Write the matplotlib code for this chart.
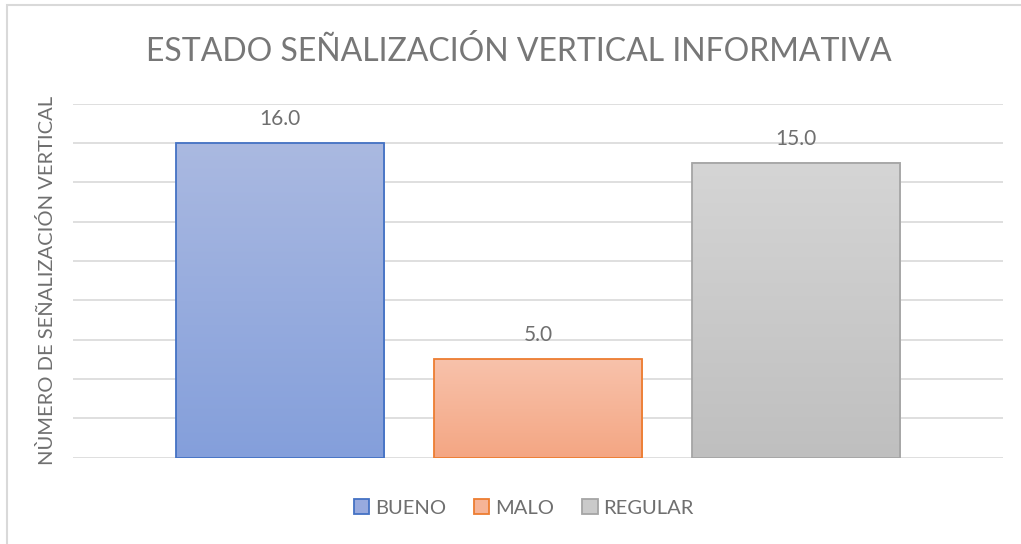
import numpy as np
import matplotlib
matplotlib.use("Agg")
import matplotlib.pyplot as plt
from matplotlib.colors import LinearSegmentedColormap
from matplotlib.patches import Rectangle

categorias = ["BUENO", "MALO", "REGULAR"]
valores = [16.0, 5.0, 15.0]

# top / bottom gradient colours and outline per bar
color_arriba = ["#aab9e1", "#f8c2ab", "#d5d5d5"]
color_abajo = ["#849fdb", "#f4a683", "#bfbfbf"]
color_borde = ["#4472c4", "#ed7d31", "#a5a5a5"]

plt.rcParams["font.family"] = ["Lato", "DejaVu Sans"]

fig = plt.figure(figsize=(10.21, 5.44), dpi=100)
ax = fig.add_axes([0.0715, 0.1586, 0.9109, 0.6511])

ancho = 0.808
pos = np.arange(len(categorias))
barras = ax.bar(pos, valores, width=ancho, color="none",
                edgecolor=color_borde, linewidth=1.3, zorder=3)

grad = np.linspace(0, 1, 256).reshape(-1, 1)
for b, c1, c2 in zip(barras, color_arriba, color_abajo):
    cmap = LinearSegmentedColormap.from_list("g", [c2, c1])
    x0, w, h = b.get_x(), b.get_width(), b.get_height()
    ax.imshow(grad, cmap=cmap, origin="lower", aspect="auto",
              extent=[x0, x0 + w, 0, h], zorder=2)

for b, v in zip(barras, valores):
    ax.annotate(f"{v:.1f}", (b.get_x() + b.get_width() / 2, v),
                xytext=(0, 10), textcoords="offset points",
                ha="center", va="bottom", fontsize=15, color="#6f6f6f")

ax.set_xlim(-0.804, 2.804)
ax.set_ylim(0, 18)
ax.set_yticks(np.arange(0, 19, 2))
ax.yaxis.grid(True, color="#d9d9d9", linewidth=1.2, zorder=0)
ax.tick_params(left=False, bottom=False, labelleft=False, labelbottom=False)
for s in ax.spines.values():
    s.set_visible(False)

ax.set_ylabel("NÙMERO DE SEÑALIZACIÓN VERTICAL", fontsize=14.5,
              color="#6f6f6f")
ax.yaxis.set_label_coords(-0.018, 0.5)

fig.text(0.508, 0.905, "ESTADO SEÑALIZACIÓN VERTICAL INFORMATIVA",
         ha="center", va="center", fontsize=23, color="#777777")

# legend handles with flat mid colours
handles = [Rectangle((0, 0), 1, 1, facecolor=c, edgecolor=e, linewidth=1.3)
           for c, e in zip(["#98aade", "#f6b497", "#cacaca"], color_borde)]
fig.legend(handles, categorias, loc="center", bbox_to_anchor=(0.513, 0.066),
           ncol=3, frameon=False, fontsize=14.5, labelcolor="#6f6f6f",
           handlelength=0.75, handleheight=0.75, handletextpad=0.3,
           columnspacing=1.4)

# chart frame, only the top and left edges fall inside the image
fig.patches.append(Rectangle((7 / 1021, -0.1), 1.2, (544 - 5) / 544 + 0.1,
                             transform=fig.transFigure, fill=False,
                             edgecolor="#d9d9d9", linewidth=1.5))

fig.savefig("out.png", dpi=100)
